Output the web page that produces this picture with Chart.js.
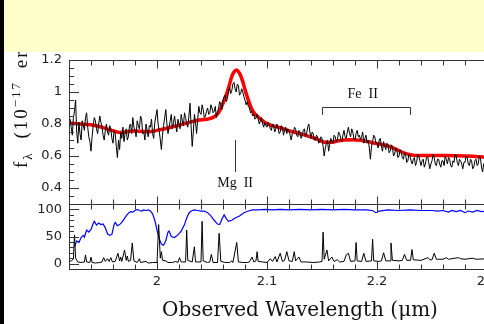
<!DOCTYPE html>
<html lang="en">
<head>
<meta charset="UTF-8">
<title>Mg II spectrum</title>
<script src="https://cdn.jsdelivr.net/npm/chart.js"></script>
<style>
  body { margin: 0; background: #fff; width: 484px; height: 324px; overflow: hidden; position: relative; }
  #wrap { position: absolute; left: 0; top: 0; width: 540px; height: 324px; }
  #edge { position: absolute; left: 0; top: 0; width: 4px; height: 324px; background: #000; z-index: 3; }
  #banner { position: absolute; left: 4px; top: 0; width: 480px; height: 52px; background: #ffffcc; z-index: 2; }
  #ylab { position: absolute; left: 11px; top: 168px; transform: rotate(-90deg); transform-origin: 0 0;
          white-space: nowrap; font: 19px "Liberation Serif", serif; line-height: 20px; letter-spacing: 2px;
          word-spacing: 6px; color: #111; z-index: 1; }
  #ylab sub, #ylab sup { font-size: 13px; line-height: 0; }
</style>
</head>
<body>
  <div id="wrap"><canvas id="chart" width="540" height="324"></canvas></div>
  <div id="ylab">f<sub>λ</sub> (10<sup>−17</sup> erg s<sup>−1</sup> cm<sup>−2</sup> Å<sup>−1</sup>)</div>
  <div id="banner"></div>
  <div id="edge"></div>

<script>
// observed spectrum, sampled every 0.001 um from 1.920
const specStart = 1.920;
const specStep = 0.001;
const specFlux = [
  0.80, 0.83, 0.78, 0.73, 0.84, 0.88, 0.95, 0.75, 0.68, 0.81, 0.74, 0.70, 0.82, 0.79, 0.76, 0.84, 0.87, 0.78, 0.72, 0.69,
  0.63, 0.72, 0.79, 0.84, 0.82, 0.77, 0.74, 0.80, 0.85, 0.81, 0.78, 0.73, 0.70, 0.76, 0.80, 0.75, 0.73, 0.79, 0.77, 0.71,
  0.68, 0.76, 0.74, 0.66, 0.59, 0.70, 0.64, 0.75, 0.71, 0.78, 0.69, 0.74, 0.77, 0.70, 0.72, 0.79, 0.80, 0.74, 0.84, 0.78,
  0.76, 0.72, 0.82, 0.79, 0.77, 0.85, 0.83, 0.74, 0.75, 0.70, 0.80, 0.76, 0.72, 0.79, 0.78, 0.83, 0.74, 0.71, 0.81, 0.85,
  0.89, 0.80, 0.76, 0.70, 0.64, 0.73, 0.79, 0.84, 0.89, 0.80, 0.74, 0.78, 0.82, 0.86, 0.77, 0.81, 0.85, 0.79, 0.75, 0.83,
  0.80, 0.77, 0.86, 0.82, 0.79, 0.87, 0.84, 0.80, 0.78, 0.85, 0.93, 0.79, 0.66, 0.75, 0.86, 0.81, 0.74, 0.83, 0.91, 0.87,
  0.86, 0.92, 0.89, 0.84, 0.85, 0.88, 0.90, 0.86, 0.87, 0.92, 0.90, 0.87, 0.88, 0.91, 0.84, 0.87, 0.90, 0.94, 0.92, 0.89,
  0.95, 0.97, 0.98, 0.94, 0.96, 1.00, 1.03, 0.99, 1.01, 1.05, 1.06, 1.02, 1.00, 1.05, 1.04, 0.98, 0.99, 1.02, 1.00, 0.97,
  0.95, 0.92, 0.94, 0.91, 0.90, 0.87, 0.88, 0.85, 0.86, 0.83, 0.84, 0.86, 0.83, 0.80, 0.82, 0.84, 0.80, 0.78, 0.81, 0.79,
  0.78, 0.81, 0.80, 0.77, 0.76, 0.80, 0.79, 0.75, 0.77, 0.80, 0.78, 0.74, 0.75, 0.79, 0.78, 0.73, 0.76, 0.78, 0.74, 0.77,
  0.76, 0.73, 0.70, 0.74, 0.75, 0.78, 0.77, 0.73, 0.72, 0.76, 0.75, 0.71, 0.73, 0.76, 0.77, 0.72, 0.74, 0.78, 0.80, 0.75,
  0.71, 0.75, 0.74, 0.70, 0.70, 0.73, 0.72, 0.68, 0.69, 0.72, 0.71, 0.66, 0.60, 0.65, 0.68, 0.70, 0.63, 0.67, 0.71, 0.69,
  0.68, 0.73, 0.72, 0.69, 0.70, 0.75, 0.74, 0.71, 0.69, 0.73, 0.76, 0.72, 0.71, 0.75, 0.78, 0.74, 0.72, 0.77, 0.75, 0.71,
  0.70, 0.74, 0.76, 0.72, 0.73, 0.70, 0.72, 0.75, 0.68, 0.71, 0.73, 0.68, 0.70, 0.65, 0.58, 0.66, 0.69, 0.73, 0.72, 0.68,
  0.68, 0.65, 0.70, 0.71, 0.66, 0.63, 0.69, 0.66, 0.64, 0.68, 0.67, 0.62, 0.63, 0.67, 0.66, 0.60, 0.61, 0.65, 0.64, 0.59,
  0.60, 0.64, 0.63, 0.59, 0.58, 0.62, 0.61, 0.56, 0.57, 0.61, 0.60, 0.57, 0.55, 0.58, 0.59, 0.54, 0.56, 0.61, 0.60, 0.57,
  0.54, 0.57, 0.58, 0.53, 0.55, 0.59, 0.60, 0.56, 0.52, 0.55, 0.57, 0.61, 0.59, 0.55, 0.54, 0.58, 0.58, 0.55, 0.53, 0.57,
  0.57, 0.54, 0.60, 0.58, 0.55, 0.59, 0.58, 0.54, 0.53, 0.57, 0.56, 0.61, 0.60, 0.56, 0.54, 0.58, 0.57, 0.55, 0.52, 0.56,
  0.56, 0.60, 0.59, 0.55, 0.54, 0.58, 0.57, 0.52, 0.53, 0.57, 0.58, 0.54, 0.55, 0.60, 0.59, 0.53, 0.50, 0.55, 0.56
];

// model fit (red)
const fitWave = [1.920, 1.930, 1.940, 1.950, 1.958, 1.966, 1.972, 1.978, 1.985, 1.993,
  2.000, 2.008, 2.016, 2.024, 2.032, 2.040, 2.047, 2.052, 2.056, 2.060,
  2.0636, 2.066, 2.068, 2.070, 2.072, 2.074, 2.0757, 2.078, 2.080, 2.0825,
  2.085, 2.088, 2.091, 2.095, 2.098, 2.104, 2.111, 2.118, 2.126, 2.134,
  2.141, 2.147, 2.153, 2.158, 2.163, 2.170, 2.178, 2.186, 2.192, 2.198,
  2.204, 2.2106, 2.217, 2.2227, 2.229, 2.2348, 2.244, 2.253, 2.262, 2.271,
  2.280, 2.289, 2.300];
const fitFlux = [0.805, 0.800, 0.795, 0.780, 0.762, 0.747, 0.750, 0.756, 0.755, 0.752,
  0.760, 0.772, 0.786, 0.800, 0.815, 0.826, 0.832, 0.845, 0.871, 0.930,
  0.995, 1.050, 1.098, 1.125, 1.137, 1.128, 1.108, 1.065, 1.016, 0.960,
  0.912, 0.872, 0.850, 0.826, 0.809, 0.792, 0.778, 0.762, 0.747, 0.732,
  0.716, 0.700, 0.686, 0.686, 0.692, 0.700, 0.702, 0.697, 0.690, 0.680,
  0.672, 0.661, 0.643, 0.624, 0.610, 0.603, 0.603, 0.603, 0.603, 0.602,
  0.600, 0.597, 0.593];

// atmospheric transmission (blue, %)
const transWave = [1.925, 1.927, 1.929, 1.931, 1.933, 1.934, 1.936, 1.938, 1.940, 1.942,
  1.943, 1.945, 1.947, 1.949, 1.951, 1.953, 1.955, 1.957, 1.959, 1.961,
  1.962, 1.964, 1.966, 1.968, 1.970, 1.972, 1.974, 1.976, 1.978, 1.980,
  1.982, 1.984, 1.986, 1.988, 1.990, 1.992, 1.994, 1.996, 1.998, 2.000,
  2.002, 2.004, 2.006, 2.008, 2.010, 2.011, 2.013, 2.016, 2.019, 2.022,
  2.025, 2.027, 2.029, 2.031, 2.034, 2.037, 2.040, 2.043, 2.046, 2.049,
  2.052, 2.055, 2.057, 2.059, 2.061, 2.063, 2.065, 2.068, 2.071, 2.075,
  2.079, 2.083, 2.087, 2.092, 2.098, 2.105, 2.112, 2.120, 2.130, 2.140,
  2.150, 2.160, 2.170, 2.180, 2.190, 2.196, 2.199, 2.202, 2.210, 2.220,
  2.230, 2.240, 2.250, 2.255, 2.260, 2.265, 2.268, 2.272, 2.276, 2.280,
  2.283, 2.287, 2.291, 2.295, 2.300];
const transPct = [31, 42, 39, 48, 52, 49, 62, 58, 63, 74,
  78, 71, 75, 72, 73, 66, 55, 52, 54, 72,
  76, 70, 72, 76, 82, 88, 93, 96, 95, 98,
  100, 98, 97, 99, 98, 99, 97, 92, 80, 62,
  46, 36, 34, 42, 58, 60, 50, 48, 53, 60,
  72, 84, 93, 97, 99, 98, 97, 97, 94, 88,
  80, 73, 72, 82, 90, 83, 78, 80, 84, 88,
  94, 97, 99, 99, 100, 99, 100, 99, 100, 99,
  100, 99, 100, 99, 99, 98, 94, 97, 99, 98,
  99, 98, 98, 97, 98, 95, 98, 96, 98, 94,
  97, 95, 98, 96, 97];

// sky emission lines (black, lower panel)
const skyWave = [1.920, 1.922, 1.924, 1.925, 1.926, 1.928, 1.931, 1.934, 1.935, 1.936,
  1.939, 1.940, 1.941, 1.944, 1.948, 1.950, 1.9515, 1.953, 1.955, 1.9565,
  1.958, 1.9595, 1.962, 1.9645, 1.966, 1.967, 1.968, 1.9705, 1.972, 1.973,
  1.974, 1.976, 1.9775, 1.979, 1.982, 1.984, 1.985, 1.990, 1.992, 1.996,
  2.000, 2.0015, 2.003, 2.004, 2.005, 2.008, 2.010, 2.014, 2.017, 2.019,
  2.0205, 2.022, 2.026, 2.027, 2.028, 2.032, 2.034, 2.035, 2.040, 2.041,
  2.042, 2.046, 2.048, 2.0494, 2.051, 2.055, 2.0565, 2.058, 2.062, 2.066,
  2.068, 2.069, 2.0725, 2.074, 2.078, 2.082, 2.084, 2.0864, 2.088, 2.090,
  2.091, 2.092, 2.096, 2.100, 2.103, 2.105, 2.1075, 2.109, 2.112, 2.114,
  2.116, 2.118, 2.120, 2.123, 2.1248, 2.126, 2.129, 2.131, 2.136, 2.142,
  2.148, 2.150, 2.151, 2.152, 2.1545, 2.156, 2.159, 2.161, 2.164, 2.166,
  2.170, 2.172, 2.174, 2.176, 2.180, 2.181, 2.182, 2.186, 2.188, 2.190,
  2.195, 2.196, 2.197, 2.202, 2.204, 2.206, 2.208, 2.212, 2.2127, 2.214,
  2.220, 2.223, 2.225, 2.227, 2.2305, 2.2318, 2.233, 2.240, 2.2464, 2.248,
  2.250, 2.252, 2.254, 2.260, 2.263, 2.265, 2.274, 2.276, 2.280, 2.287,
  2.290, 2.300];
const skyFlux = [4, 5, 8, 53, 10, 3, 2, 3, 16, 3,
  2, 12, 2, 1, 2, 3, 11, 4, 9, 4,
  11, 3, 4, 19, 5, 12, 4, 25, 6, 14,
  4, 6, 38, 5, 2, 9, 2, 4, 1, 2,
  2, 72, 10, 22, 6, 5, 2, 2, 4, 2,
  11, 3, 3, 62, 6, 3, 31, 3, 3, 78,
  5, 2, 3, 17, 2, 2, 56, 4, 2, 2,
  5, 2, 39, 3, 2, 2, 3, 12, 3, 5,
  22, 4, 3, 2, 9, 4, 13, 3, 19, 4,
  6, 22, 5, 4, 22, 5, 12, 3, 3, 2,
  3, 4, 58, 8, 25, 5, 12, 4, 7, 3,
  4, 16, 19, 4, 5, 39, 5, 4, 19, 4,
  5, 45, 5, 4, 5, 20, 5, 5, 38, 6,
  5, 6, 17, 6, 6, 26, 7, 6, 11, 7,
  7, 19, 8, 8, 11, 8, 11, 9, 8, 10,
  8, 9];

const xTicks = [2, 2.1, 2.2, 2.3];
const yTopTicks = [0.4, 0.6, 0.8, 1, 1.2];
const yBotTicks = [0, 50, 100];

const toPts = (xs, ys) => ys.map((y, i) => ({ x: xs[i], y: y }));
const specPts = specFlux.map((y, i) => ({ x: specStart + i * specStep, y: y }));

const serif = '"Liberation Serif", serif';
const tickFont = { family: '"DejaVu Sans", sans-serif', size: 13 };

// frame, inward tick marks and line labels
const framePlugin = {
  id: 'frame',
  afterDatasetsDraw(chart) {
    const { ctx, chartArea: a, scales } = chart;
    const x = scales.x, yT = scales.yT, yB = scales.yB;
    ctx.save();
    ctx.strokeStyle = '#333';
    ctx.lineWidth = 1;
    ctx.beginPath();
    ctx.rect(a.left + 0.5, Math.round(yT.top) + 0.5, a.width, Math.round(yT.bottom - yT.top));
    ctx.rect(a.left + 0.5, Math.round(yB.top) + 0.5, a.width, Math.round(yB.bottom - yB.top));
    const edges = [[yT.top, 1], [yT.bottom, -1], [yB.top, 1], [yB.bottom, -1]];
    for (let i = 0; i <= 21; i++) {
      const v = 1.92 + i * 0.02;
      const major = Math.abs(v * 10 - Math.round(v * 10)) < 1e-6;
      const px = Math.round(x.getPixelForValue(v)) + 0.5;
      const len = major ? 8 : 5;
      edges.forEach(([ey, dir]) => {
        const yy = Math.round(ey) + 0.5;
        ctx.moveTo(px, yy);
        ctx.lineTo(px, yy + dir * len);
      });
    }
    for (let i = 0; i <= 18; i++) {
      const v = 0.3 + i * 0.05;
      const major = Math.abs(v * 5 - Math.round(v * 5)) < 1e-6;
      const py = Math.round(yT.getPixelForValue(v)) + 0.5;
      ctx.moveTo(a.left, py);
      ctx.lineTo(a.left + (major ? 10 : 5), py);
    }
    for (let v = -10; v <= 110; v += 10) {
      const py = Math.round(yB.getPixelForValue(v)) + 0.5;
      ctx.moveTo(a.left, py);
      ctx.lineTo(a.left + (v % 50 === 0 ? 10 : 5), py);
    }
    // Mg II marker
    const mx = Math.round(x.getPixelForValue(2.0712)) + 0.5;
    ctx.moveTo(mx, yT.getPixelForValue(0.70));
    ctx.lineTo(mx, yT.getPixelForValue(0.50));
    // Fe II bracket
    const f0 = Math.round(x.getPixelForValue(2.150)) + 0.5;
    const f1 = Math.round(x.getPixelForValue(2.230)) + 0.5;
    const fy = Math.round(yT.getPixelForValue(0.905)) + 0.5;
    const fb = yT.getPixelForValue(0.857);
    ctx.moveTo(f0, fb);
    ctx.lineTo(f0, fy);
    ctx.lineTo(f1, fy);
    ctx.lineTo(f1, fb);
    ctx.stroke();

    ctx.fillStyle = '#111';
    ctx.font = '14px ' + serif;
    ctx.textAlign = 'center';
    ctx.textBaseline = 'middle';
    ctx.fillText('Mg  II', x.getPixelForValue(2.071), yT.getPixelForValue(0.43));
    ctx.fillText('Fe  II', x.getPixelForValue(2.187), yT.getPixelForValue(0.986));
    ctx.restore();
  }
};

new Chart(document.getElementById('chart'), {
  type: 'line',
  data: {
    datasets: [
      { data: specPts, yAxisID: 'yT', borderColor: '#000', borderWidth: 1, pointRadius: 0, borderJoinStyle: 'bevel' },
      { data: toPts(fitWave, fitFlux), yAxisID: 'yT', borderColor: '#ff0000', borderWidth: 3.5,
        pointRadius: 0, cubicInterpolationMode: 'monotone' },
      { data: toPts(skyWave, skyFlux), yAxisID: 'yB', borderColor: '#000', borderWidth: 1, pointRadius: 0 },
      { data: toPts(transWave, transPct), yAxisID: 'yB', borderColor: '#0000ff', borderWidth: 1.2, pointRadius: 0 }
    ]
  },
  options: {
    responsive: false,
    animation: false,
    devicePixelRatio: 1,
    layout: { padding: { top: 60, left: 0, right: 9, bottom: 0 } },
    plugins: { legend: { display: false }, tooltip: { enabled: false } },
    scales: {
      x: {
        type: 'linear', min: 1.92, max: 2.34,
        afterFit: s => { s.height = 55; },
        afterBuildTicks: s => { s.ticks = xTicks.map(v => ({ value: v })); },
        ticks: { callback: v => String(v), font: tickFont, color: '#222', padding: 5, maxRotation: 0, autoSkip: false },
        grid: { drawOnChartArea: false, drawTicks: false },
        border: { display: false },
        title: { display: true, text: 'Observed Wavelength (μm)', color: '#111',
                 font: { family: '"DejaVu Serif", serif', size: 20 }, padding: { top: 0, bottom: 1 } }
      },
      yB: {
        type: 'linear', position: 'left', stack: 'panels', stackWeight: 65, min: -10, max: 110,
        afterFit: s => { s.width = 69; },
        afterBuildTicks: s => { s.ticks = yBotTicks.map(v => ({ value: v })); },
        ticks: { callback: v => String(v), font: tickFont, color: '#222', padding: 7 },
        grid: { drawOnChartArea: false, drawTicks: false },
        border: { display: false }
      },
      yT: {
        type: 'linear', position: 'left', stack: 'panels', stackWeight: 144, min: 0.3, max: 1.2,
        afterFit: s => { s.width = 69; },
        afterBuildTicks: s => { s.ticks = yTopTicks.map(v => ({ value: v })); },
        ticks: { callback: v => String(v), font: tickFont, color: '#222', padding: 7 },
        grid: { drawOnChartArea: false, drawTicks: false },
        border: { display: false }
      }
    }
  },
  plugins: [framePlugin]
});
</script>
</body>
</html>
